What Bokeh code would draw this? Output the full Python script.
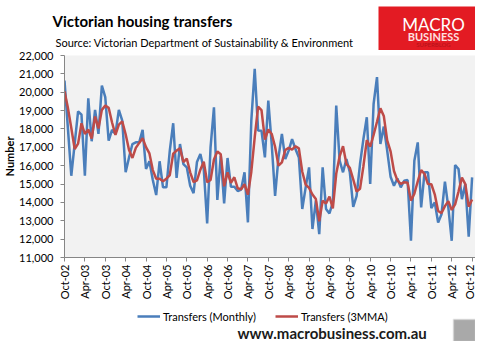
from math import pi
from bokeh.plotting import figure
from bokeh.layouts import column
from bokeh.models import (Range1d, FixedTicker, NumeralTickFormatter, Legend,
                          LegendItem, Label, BoxAnnotation, ColumnDataSource, Plot)
from bokeh.embed import file_html
from bokeh.resources import INLINE

# ---------------- data ----------------
tick_labels = ["Oct-02", "Apr-03", "Oct-03", "Apr-04", "Oct-04", "Apr-05", "Oct-05",
               "Apr-06", "Oct-06", "Apr-07", "Oct-07", "Apr-08", "Oct-08", "Apr-09",
               "Oct-09", "Apr-10", "Oct-10", "Apr-11", "Oct-11", "Apr-12", "Oct-12"]

monthly = [20640, 18050, 15450, 17200, 18960, 18780, 15450, 19670, 17330, 19040,
           17730, 20360, 19730, 17360, 17950, 17730, 19040, 18450, 15640, 16450,
           17180, 17270, 17270, 17950, 15820, 16240, 15220, 14400, 16240, 14820,
           14820, 16820, 18310, 15330, 17180, 16090, 15910, 14910, 14500, 16200,
           16640, 15820, 12850, 17000, 19180, 14130, 16550, 13950, 16420, 14850,
           14850, 14620, 14700, 15640, 12910, 18450, 21270, 17910, 17900, 16450,
           19550, 17180, 14360, 16450, 17730, 16360, 16820, 17450, 16910, 16450,
           13640, 14820, 15910, 12550, 14090, 12270, 15910, 13640, 13400, 14000,
           19270, 16270, 15640, 16360, 15640, 13760, 14360, 16090, 17450, 18640,
           15000, 19360, 20820, 17180, 18130, 16820, 15400, 14910, 15300, 14820,
           15180, 15220, 11910, 16270, 17270, 13730, 15640, 15640, 13690, 14000,
           12910, 13360, 15130, 13730, 11910, 16040, 15820, 14180, 15000, 12130,
           15360]

mma3 = [20050, 19150, 18050, 16900, 17200, 18310, 17730, 17970, 17480, 18680,
        18030, 19040, 19270, 19150, 18350, 17680, 18240, 18410, 17710, 16850,
        16420, 16970, 17240, 17500, 17010, 16670, 15760, 15290, 15290, 15150,
        15290, 15490, 16650, 16820, 16940, 16200, 16390, 15640, 15110, 15200,
        15780, 16220, 15100, 15220, 16340, 16770, 16620, 14880, 15640, 15070,
        15370, 14770, 14720, 14990, 14420, 15670, 17540, 19210, 19030, 17420,
        17970, 17730, 17030, 16000, 16180, 16850, 16970, 16880, 17060, 16940,
        15670, 14970, 14790, 14430, 14180, 12970, 14090, 13940, 14320, 13680,
        15560, 16510, 17060, 16090, 15880, 15250, 14590, 14740, 15970, 17390,
        17030, 17670, 18390, 19120, 18710, 17380, 16780, 15710, 15200, 15010,
        15100, 15070, 14100, 14470, 15150, 15760, 15550, 15000, 14990, 14440,
        13530, 13420, 13800, 14070, 13590, 13890, 14590, 15350, 15000, 13770,
        14160]

y_ticks = [11000, 12000, 13000, 14000, 15000, 16000, 17000, 18000, 19000, 20000, 21000, 22000]

FONT = "Lato"
BLUE = "#4a7ebb"
RED = "#be4b48"
W = 475
HAS_FA = "frame_align" in Plot.properties()


def noalign(f):
    if HAS_FA:
        f.frame_align = False
    return f


def blank(h):
    f = figure(width=W, height=h, output_backend="svg", toolbar_location=None,
               x_axis_type=None, y_axis_type=None, min_border=0,
               x_range=Range1d(0, 1), y_range=Range1d(0, 1))
    f.outline_line_color = None
    f.grid.visible = False
    f.background_fill_color = "white"
    f.border_fill_color = "white"
    return noalign(f)


def scr(**kw):
    return dict(x_units="screen", y_units="screen", **kw)


def box(**kw):
    return BoxAnnotation(left_units="screen", right_units="screen",
                         top_units="screen", bottom_units="screen", **kw)


# ---------------- header ----------------
H1 = 50
head = blank(H1)
head.add_layout(Label(**scr(x=52, y=H1 - 20.5), text="Victorian housing transfers",
                      text_font=FONT, text_font_size="15px", text_font_style="bold",
                      text_baseline="alphabetic", text_color="#000000"))
head.add_layout(Label(**scr(x=55, y=H1 - 42),
                      text="Source: Victorian Department of Sustainability & Environment",
                      text_font=FONT, text_font_size="11px",
                      text_baseline="alphabetic", text_color="#000000"))
head.add_layout(box(left=378, right=W, top=H1 - 6, bottom=0,
                    fill_color="#e31b23", fill_alpha=1, line_alpha=0))
head.add_layout(Label(**scr(x=433, y=H1 - 24), text="MACRO", text_font=FONT,
                      text_font_size="17px", text_align="center",
                      text_baseline="alphabetic", text_color="white"))
head.add_layout(Label(**scr(x=433, y=H1 - 35.5), text="BUSINESS", text_font=FONT,
                      text_font_size="11px", text_font_style="bold", text_align="center",
                      text_baseline="alphabetic", text_color="#ffe0e0"))
head.add_layout(Label(**scr(x=433, y=H1 - 44), text="SUPERBLOG", text_font=FONT,
                      text_font_size="6px", text_align="center",
                      text_baseline="alphabetic", text_color="#b3121a"))

# ---------------- main chart ----------------
months = list(range(len(monthly)))
src = ColumnDataSource(dict(m=months, monthly=monthly, mma3=mma3))

p = figure(width=W, height=252, output_backend="svg", toolbar_location=None,
           x_range=Range1d(0, 121), y_range=Range1d(11000, 22000),
           min_border_left=63, min_border_right=0, min_border_top=5,
           min_border_bottom=42)
noalign(p)
p.background_fill_color = "#f2f2f2"
p.border_fill_color = "white"
p.outline_line_color = None
p.grid.visible = False

p.line("m", "monthly", source=src, line_color=BLUE, line_width=2.5)
p.line("m", "mma3", source=src, line_color=RED, line_width=2.5)

xa = p.xaxis[0]
xa.ticker = FixedTicker(ticks=[6 * k for k in range(len(tick_labels))])
xa.major_label_overrides = {6 * k: lab for k, lab in enumerate(tick_labels)}
xa.major_label_orientation = pi / 2
xa.minor_tick_line_color = None
xa.major_tick_in = 0
xa.major_tick_out = 4
xa.major_label_standoff = 3

ya = p.yaxis[0]
ya.ticker = FixedTicker(ticks=y_ticks)
ya.formatter = NumeralTickFormatter(format="0,0")
ya.minor_tick_line_color = None
ya.major_tick_in = 0
ya.major_tick_out = 4
ya.major_label_standoff = 7
ya.axis_label = "Number"
ya.axis_label_text_font = FONT
ya.axis_label_text_font_size = "11px"
ya.axis_label_text_font_style = "bold"
ya.axis_label_text_color = "#000000"
ya.axis_label_standoff = 0

for ax in (xa, ya):
    ax.axis_line_color = "#868686"
    ax.major_tick_line_color = "#868686"
    ax.major_label_text_font = FONT
    ax.major_label_text_font_size = "11px"
    ax.major_label_text_color = "#000000"

# ---------------- footer ----------------
H3 = 39
foot = blank(H3)
# legend proxies: same series, drawn far outside this strip's 0..1 range
lb = foot.line("m", "monthly", source=src, line_color=BLUE, line_width=2.5)
lr = foot.line("m", "mma3", source=src, line_color=RED, line_width=2.5)
legend = Legend(items=[LegendItem(label="Transfers (Monthly)", renderers=[lb]),
                       LegendItem(label="Transfers (3MMA)", renderers=[lr])],
                location=(137, 15), orientation="horizontal",
                glyph_width=23, glyph_height=20, label_height=20,
                label_standoff=3, spacing=19,
                padding=0, margin=0, border_line_alpha=0, background_fill_alpha=0,
                label_text_font=FONT, label_text_font_size="11px",
                label_text_color="#000000")
foot.add_layout(legend)
foot.add_layout(Label(**scr(x=237, y=9), text="www.macrobusiness.com.au",
                      text_font=FONT, text_font_size="15px", text_font_style="bold",
                      text_baseline="alphabetic", text_color="#1a1a1a"))
foot.add_layout(box(left=453, right=W, top=H3 - 17, bottom=0,
                    fill_color="#a9a9a9", fill_alpha=1,
                    line_color="#cfcfcf", line_width=2))

layout = column(head, p, foot, spacing=0)
open("out.html", "w").write(file_html(layout, INLINE))
